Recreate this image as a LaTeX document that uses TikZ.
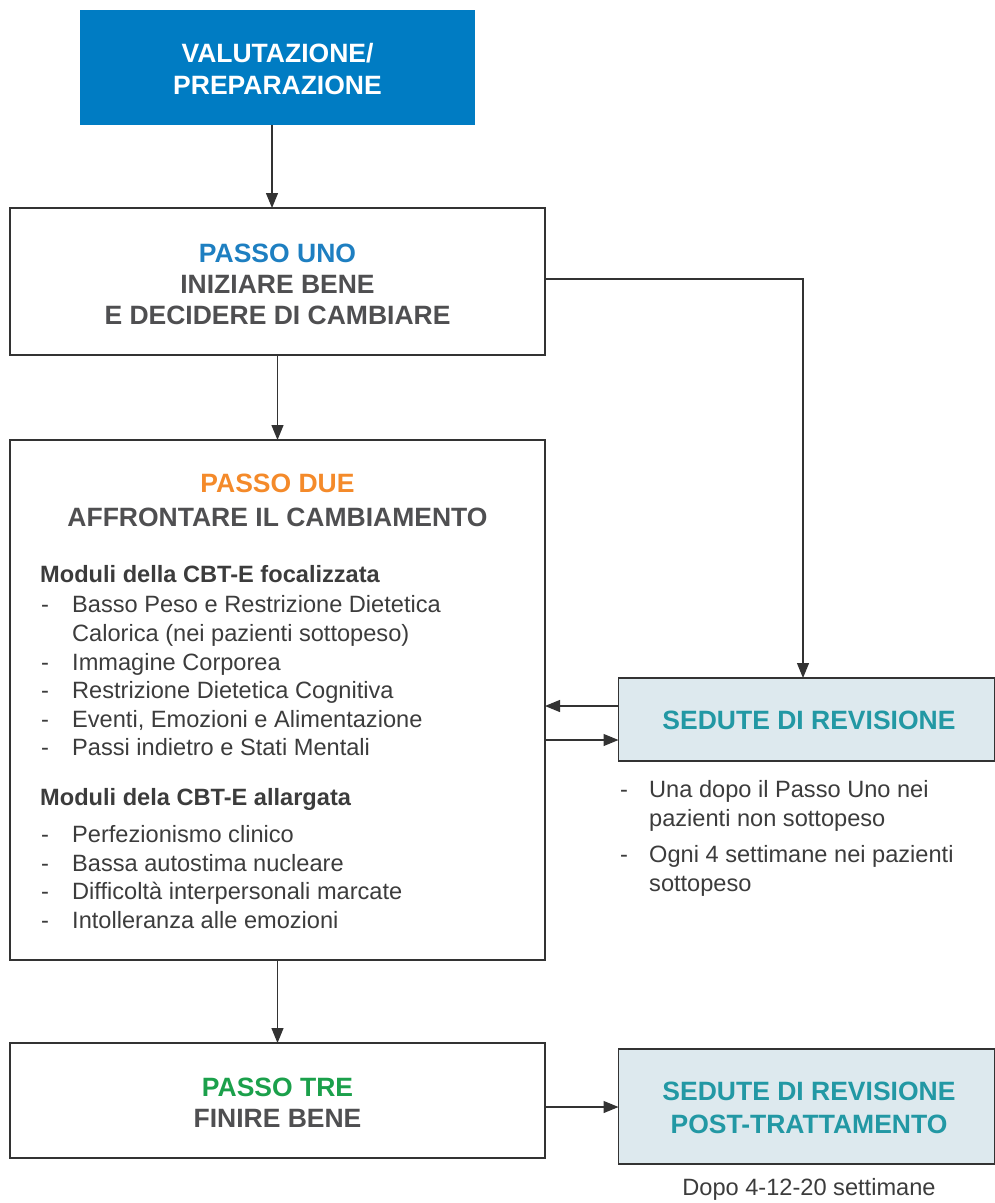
\documentclass[tikz,border=0pt]{standalone}
\usepackage{fontspec}
\setmainfont{Liberation Sans}
\usetikzlibrary{arrows.meta}
\definecolor{topblue}{HTML}{007CC3}
\definecolor{unoblue}{HTML}{1E7FC1}
\definecolor{dueorange}{HTML}{F48A2A}
\definecolor{tregreen}{HTML}{1BA04B}
\definecolor{teal}{HTML}{2298A4}
\definecolor{revfill}{HTML}{DDE9EE}
\definecolor{headgray}{HTML}{4F4F51}
\definecolor{bodygray}{HTML}{3C3C3C}
\definecolor{linegray}{HTML}{333333}
\tikzset{
  box/.style={draw=linegray, line width=1.3pt, inner sep=0pt, outer sep=0pt},
  head/.style={inner sep=0pt, anchor=base, font=\fontsize{26.5}{31}\selectfont\bfseries},
  body/.style={inner sep=0pt, anchor=base west, text=bodygray, font=\fontsize{23.6}{28}\selectfont},
  bodyb/.style={inner sep=0pt, anchor=base west, text=bodygray, font=\fontsize{23.6}{28}\selectfont\bfseries},
  arr/.style={draw=linegray, line width=1.2pt, -{Triangle[length=15pt,width=12pt]}},
}
\begin{document}
\begin{tikzpicture}[x=1pt,y=-1pt]
\useasboundingbox (0,0) rectangle (995,1203);
% boxes
\node[box, draw=none, fill=topblue, minimum width=395pt, minimum height=115pt] (val) at (277.5,67.5) {};
\node[box, minimum width=535pt, minimum height=147pt] (uno) at (277.5,281.5) {};
\node[box, minimum width=535pt, minimum height=520pt] (due) at (277.5,700) {};
\node[box, minimum width=535pt, minimum height=115pt] (tre) at (277.5,1100.5) {};
\node[box, fill=revfill, minimum width=376pt, minimum height=83pt] (rev) at (806.5,719.5) {};
\node[box, fill=revfill, minimum width=376pt, minimum height=115pt] (post) at (806.5,1106.5) {};
% top box text
\node[head, text=white] (t1) at (277.5,62) {VALUTAZIONE/};
\node[head, text=white] (t2) at (277.5,94) {PREPARAZIONE};
% passo uno
\node[head, text=unoblue] (u1) at (277.5,262) {PASSO UNO};
\node[head, text=headgray] (u2) at (277.5,293) {INIZIARE BENE};
\node[head, text=headgray] (u3) at (277.5,324) {E DECIDERE DI CAMBIARE};
% passo due
\node[head, text=dueorange] (d1) at (277.5,492) {PASSO DUE};
\node[head, text=headgray] (d2) at (277.5,526) {AFFRONTARE IL CAMBIAMENTO};
\node[bodyb] (m1) at (40,582) {Moduli della CBT-E focalizzata};
\node[body] (a1d) at (41,612) {-};
\node[body] (a1) at (72,612) {Basso Peso e Restrizione Dietetica};
\node[body] (a1b) at (72,641) {Calorica (nei pazienti sottopeso)};
\node[body] (a2d) at (41,670) {-};
\node[body] (a2) at (72,670) {Immagine Corporea};
\node[body] (a3d) at (41,698) {-};
\node[body] (a3) at (72,698) {Restrizione Dietetica Cognitiva};
\node[body] (a4d) at (41,727) {-};
\node[body] (a4) at (72,727) {Eventi, Emozioni e Alimentazione};
\node[body] (a5d) at (41,755) {-};
\node[body] (a5) at (72,755) {Passi indietro e Stati Mentali};
\node[bodyb] (m2) at (40,805) {Moduli dela CBT-E allargata};
\node[body] (b1d) at (41,842) {-};
\node[body] (b1) at (72,842) {Perfezionismo clinico};
\node[body] (b2d) at (41,871) {-};
\node[body] (b2) at (72,871) {Bassa autostima nucleare};
\node[body] (b3d) at (41,899) {-};
\node[body] (b3) at (72,899) {Difficoltà interpersonali marcate};
\node[body] (b4d) at (41,928) {-};
\node[body] (b4) at (72,928) {Intolleranza alle emozioni};
% passo tre
\node[head, text=tregreen] (p1) at (277.5,1096) {PASSO TRE};
\node[head, text=headgray] (p2) at (277.5,1127) {FINIRE BENE};
% revision
\node[head, text=teal] (r1) at (809,729) {SEDUTE DI REVISIONE};
\node[body] (r2d) at (620,797) {-};
\node[body] (r2) at (649,797) {Una dopo il Passo Uno nei};
\node[body] (r2b) at (649,826) {pazienti non sottopeso};
\node[body] (r3d) at (620,862) {-};
\node[body] (r3) at (649,862) {Ogni 4 settimane nei pazienti};
\node[body] (r3b) at (649,891) {sottopeso};
% post
\node[head, text=teal] (q1) at (809,1100) {SEDUTE DI REVISIONE};
\node[head, text=teal] (q2) at (809,1133) {POST-TRATTAMENTO};
\node[inner sep=0pt, anchor=base, text=bodygray, font=\fontsize{23.6}{28}\selectfont] (q3) at (809,1195) {Dopo 4-12-20 settimane};
% connectors
\coordinate (turn) at (803,279);
\draw[arr] ([xshift=-5.5pt]val.south) -- ([xshift=-5.5pt]uno.north);
\draw[arr] (uno.south) -- (due.north);
\draw[arr] (due.south) -- (tre.north);
\draw[arr] (uno.east |- turn) -- (turn) -- (turn |- rev.north);
\draw[arr] (rev.west |- 0,706) -- (due.east |- 0,706);
\draw[arr] (due.east |- 0,740) -- (rev.west |- 0,740);
\draw[arr] (tre.east |- 0,1107) -- (post.west |- 0,1107);
\end{tikzpicture}
\end{document}
